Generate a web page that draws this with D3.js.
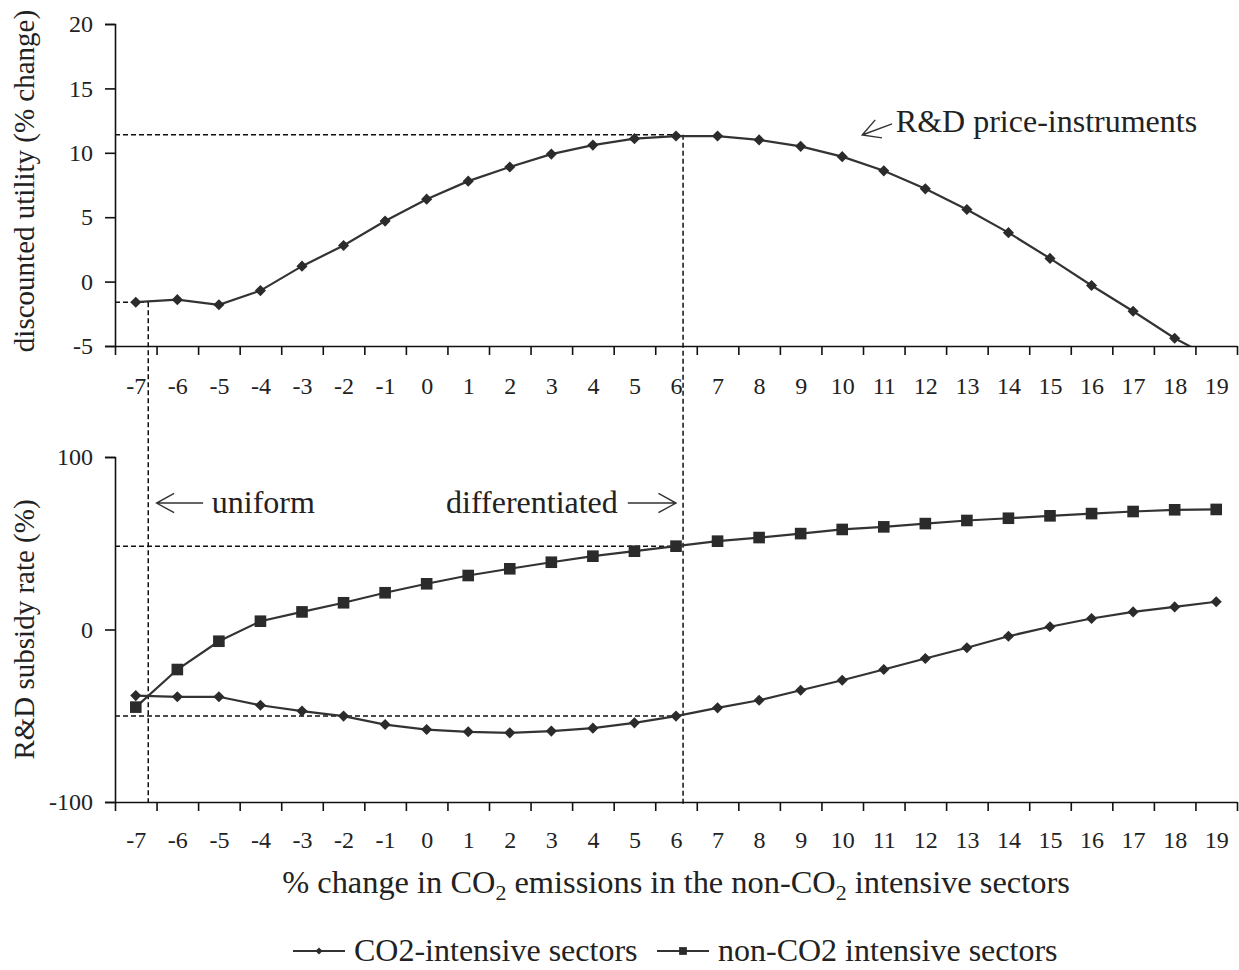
<!DOCTYPE html>
<html>
<head>
<meta charset="utf-8">
<script src="https://cdn.jsdelivr.net/npm/d3@7"></script>
<style>
  body { margin: 0; background: #fff; }
  text { font-family: "Liberation Serif", "Times New Roman", serif; fill: #222; }
</style>
</head>
<body>
<svg id="chart" width="1239" height="970"></svg>
<script>
// x categories: % change in CO2 emissions in the non-CO2 intensive sectors
const emissions = [-7, -6, -5, -4, -3, -2, -1, 0, 1, 2, 3, 4, 5, 6, 7, 8, 9, 10, 11, 12, 13, 14, 15, 16, 17, 18, 19];

// top panel: discounted utility (% change)
const utility = [-1.6, -1.4, -1.8, -0.7, 1.2, 2.8, 4.7, 6.4, 7.8, 8.9, 9.9, 10.6, 11.1, 11.3,
  11.3, 11.0, 10.5, 9.7, 8.6, 7.2, 5.6, 3.8, 1.8, -0.3, -2.3, -4.4, -6.1];

// bottom panel: R&D subsidy rate (%)
const subsidyCO2 = [-38.3, -39.0, -39.0, -43.9, -47.3, -50.2, -55.1, -58.0, -59.3, -59.9, -58.9, -57.2, -54.1, -50.2,
  -45.4, -41.0, -35.2, -29.4, -23.2, -16.8, -10.6, -3.9, 1.6, 6.4, 10.2, 13.1, 16.1];
const subsidyNonCO2 = [-45.0, -23.2, -6.8, 4.8, 10.2, 15.5, 21.3, 26.5, 31.3, 35.2, 39.0, 42.5, 45.4, 48.3,
  51.2, 53.3, 55.6, 58.0, 59.5, 61.4, 63.2, 64.5, 65.9, 67.2, 68.4, 69.4, 69.6];

// tick labels
const utilityTicks = [-5, 0, 5, 10, 15, 20];
const subsidyTicks = [-100, 0, 100];

// optimum guide lines (uniform vs differentiated)
const uniformAt = { x: -6.7, utility: -1.6 };
const diffAt = { x: 6.17, utility: 11.4, subsidy: [48.3, -50.2] };

const svg = d3.select("#chart");
const left = 115, right = 1237;
const fmt = (d) => String(d); // plain hyphen, not the unicode minus

const x = d3.scaleLinear().domain([-7.5, 19.5]).range([left, right]);
const yTop = d3.scaleLinear().domain([-5, 20]).range([346, 24]);
const yBot = d3.scaleLinear().domain([-100, 100]).range([802, 457]);

const boundaries = emissions.map((d) => d - 0.5).concat([19.5]);

svg.append("defs").append("clipPath").attr("id", "clipTop")
  .append("rect").attr("x", left).attr("y", yTop(20)).attr("width", right - left).attr("height", yTop(-5) - yTop(20));

function drawAxes(y, ticks, labelPad) {
  const base = y.range()[0];
  const gx = svg.append("g").attr("transform", `translate(0,${base})`)
    .call(d3.axisBottom(x).tickValues(boundaries).tickFormat("").tickSize(9).tickSizeOuter(0));
  svg.append("g").attr("transform", `translate(0,${base})`)
    .call(d3.axisBottom(x).tickValues(emissions).tickFormat(fmt).tickSize(0).tickPadding(labelPad))
    .call((g) => g.select(".domain").remove())
    .selectAll("text").attr("font-size", 24).style("font-family", "Liberation Serif");
  const gy = svg.append("g").attr("transform", `translate(${left},0)`)
    .call(d3.axisLeft(y).tickValues(ticks).tickFormat(fmt).tickSize(10).tickPadding(12));
  gy.selectAll("text").attr("font-size", 24).style("font-family", "Liberation Serif");
  [gx, gy].forEach((g) => {
    g.select(".domain").attr("stroke", "#111").attr("stroke-width", 1.6);
    g.selectAll(".tick line").attr("stroke", "#111").attr("stroke-width", 1.6);
  });
}

drawAxes(yTop, utilityTicks, 31);
drawAxes(yBot, subsidyTicks, 29);

// dashed guide lines
const guides = svg.append("g").attr("stroke", "#111").attr("stroke-width", 1.5)
  .attr("stroke-dasharray", "5,3").attr("fill", "none");
guides.append("line").attr("x1", left).attr("x2", x(diffAt.x))
  .attr("y1", yTop(diffAt.utility)).attr("y2", yTop(diffAt.utility));
guides.append("line").attr("x1", left).attr("x2", x(uniformAt.x))
  .attr("y1", yTop(uniformAt.utility)).attr("y2", yTop(uniformAt.utility));
guides.append("line").attr("x1", x(uniformAt.x)).attr("x2", x(uniformAt.x))
  .attr("y1", yTop(uniformAt.utility)).attr("y2", yBot(-100));
guides.append("line").attr("x1", x(diffAt.x)).attr("x2", x(diffAt.x))
  .attr("y1", yTop(diffAt.utility)).attr("y2", yBot(-100) + 4);
diffAt.subsidy.forEach((v) => {
  guides.append("line").attr("x1", left).attr("x2", x(diffAt.x))
    .attr("y1", yBot(v)).attr("y2", yBot(v));
});

const diamond = d3.symbol(d3.symbolSquare, 62);
const square = d3.symbol(d3.symbolSquare, 135);

function drawSeries(values, y, shape, rotate, clip) {
  const g = svg.append("g");
  if (clip) g.attr("clip-path", "url(#clipTop)");
  const pts = emissions.map((e, i) => [x(e), y(values[i])]);
  g.append("path").attr("d", d3.line()(pts))
    .attr("fill", "none").attr("stroke", "#333").attr("stroke-width", 2.2);
  g.selectAll("path.m").data(pts).join("path").attr("class", "m")
    .attr("d", shape)
    .attr("transform", (p) => `translate(${p[0]},${p[1]}) rotate(${rotate})`)
    .attr("fill", "#2b2b2b");
}

drawSeries(utility, yTop, diamond, 45, true);
drawSeries(subsidyCO2, yBot, diamond, 45, false);
drawSeries(subsidyNonCO2, yBot, square, 0, false);

// annotations with open arrows
function arrow(x1, y1, x2, y2) {
  const a = Math.atan2(y2 - y1, x2 - x1), len = 20, spread = 0.5;
  const p = d3.path();
  p.moveTo(x1, y1); p.lineTo(x2, y2);
  p.moveTo(x2 - len * Math.cos(a - spread), y2 - len * Math.sin(a - spread));
  p.lineTo(x2, y2);
  p.lineTo(x2 - len * Math.cos(a + spread), y2 - len * Math.sin(a + spread));
  svg.append("path").attr("d", p.toString()).attr("fill", "none").attr("stroke", "#333").attr("stroke-width", 1.4);
}

svg.append("text").attr("x", x(11.29)).attr("y", yTop(11.6)).attr("font-size", 32).text("R&D price-instruments");
arrow(x(11.2), yTop(12.25), x(10.48), yTop(11.38));

svg.append("text").attr("x", x(-5.17)).attr("y", yBot(67.5)).attr("font-size", 32).text("uniform");
arrow(x(-5.38), yBot(73.3), x(-6.5), yBot(73.3));

svg.append("text").attr("x", x(4.6)).attr("y", yBot(67.5)).attr("font-size", 32)
  .attr("text-anchor", "end").text("differentiated");
arrow(x(4.84), yBot(73.3), x(6.0), yBot(73.3));

// axis titles
svg.append("text").attr("transform", `translate(34,${(yTop(20) + yTop(-5)) / 2 - 4}) rotate(-90)`)
  .attr("text-anchor", "middle").attr("font-size", 29).text("discounted utility (% change)");
svg.append("text").attr("transform", `translate(34,${(yBot(100) + yBot(-100)) / 2}) rotate(-90)`)
  .attr("text-anchor", "middle").attr("font-size", 29).text("R&D subsidy rate (%)");

const title = svg.append("text").attr("x", (left + right) / 2).attr("y", 893)
  .attr("text-anchor", "middle").attr("font-size", 32.4);
title.append("tspan").text("% change in CO");
title.append("tspan").attr("font-size", 22).attr("dy", 7).text("2");
title.append("tspan").attr("dy", -7).text(" emissions in the non-CO");
title.append("tspan").attr("font-size", 22).attr("dy", 7).text("2");
title.append("tspan").attr("dy", -7).text(" intensive sectors");

// legend
const legendItems = [
  { label: "CO2-intensive sectors", shape: d3.symbol(d3.symbolSquare, 24), rotate: 45, x0: 293 },
  { label: "non-CO2 intensive sectors", shape: d3.symbol(d3.symbolSquare, 60), rotate: 0, x0: 657 },
];
legendItems.forEach((d) => {
  const g = svg.append("g").attr("transform", `translate(${d.x0},951)`);
  g.append("line").attr("x1", 0).attr("x2", 52).attr("stroke", "#333").attr("stroke-width", 2);
  g.append("path").attr("d", d.shape).attr("transform", `translate(26,0) rotate(${d.rotate})`).attr("fill", "#2b2b2b");
  g.append("text").attr("x", 61).attr("y", 10).attr("font-size", 32).text(d.label);
});
</script>
</body>
</html>
